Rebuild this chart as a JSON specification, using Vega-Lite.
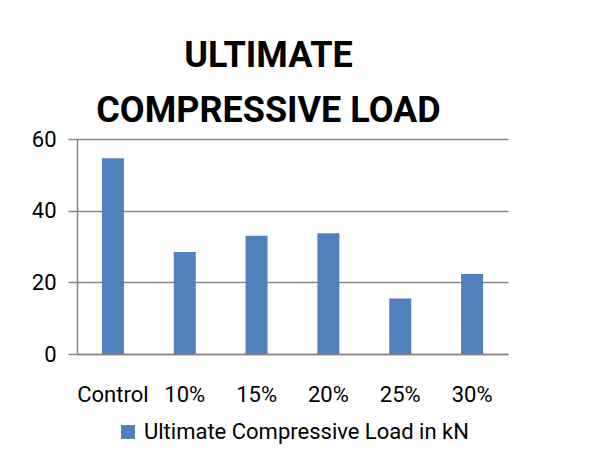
{
  "$schema": "https://vega.github.io/schema/vega-lite/v6.json",
  "width": 431,
  "height": 215,
  "autosize": {"type": "none"},
  "padding": {"left": 77, "top": 139, "right": 94, "bottom": 119},
  "background": "white",
  "title": {
    "text": ["ULTIMATE", "COMPRESSIVE LOAD"],
    "font": "Roboto",
    "fontSize": 36,
    "fontWeight": "bold",
    "color": "black",
    "anchor": "middle",
    "dx": -24,
    "lineHeight": 55,
    "offset": -2
  },
  "data": {
    "values": [
      {"Category": "Control", "Load": 54.6, "Series": "Ultimate Compressive Load in kN"},
      {"Category": "10%", "Load": 28.5, "Series": "Ultimate Compressive Load in kN"},
      {"Category": "15%", "Load": 33.0, "Series": "Ultimate Compressive Load in kN"},
      {"Category": "20%", "Load": 33.7, "Series": "Ultimate Compressive Load in kN"},
      {"Category": "25%", "Load": 15.5, "Series": "Ultimate Compressive Load in kN"},
      {"Category": "30%", "Load": 22.3, "Series": "Ultimate Compressive Load in kN"}
    ]
  },
  "mark": {"type": "bar", "size": 22},
  "encoding": {
    "x": {
      "field": "Category",
      "type": "nominal",
      "sort": null,
      "scale": {"paddingInner": 0, "paddingOuter": 0},
      "axis": {
        "title": null,
        "labelAngle": 0,
        "labelFont": "Roboto",
        "labelFontSize": 22,
        "labelColor": "black",
        "labelPadding": 30,
        "ticks": false,
        "domainColor": "#868686",
        "domainWidth": 1.5
      }
    },
    "y": {
      "field": "Load",
      "type": "quantitative",
      "scale": {"domain": [0, 60]},
      "axis": {
        "title": null,
        "values": [0, 20, 40, 60],
        "labelFont": "Roboto",
        "labelFontSize": 22,
        "labelColor": "black",
        "labelPadding": 12,
        "tickSize": 9,
        "tickColor": "#868686",
        "tickWidth": 1.5,
        "domainColor": "#868686",
        "domainWidth": 1.5,
        "gridColor": "#868686",
        "gridWidth": 1.5
      }
    },
    "color": {
      "field": "Series",
      "type": "nominal",
      "scale": {"range": ["#4F81BD"]},
      "legend": {
        "title": null,
        "orient": "none",
        "legendX": 40,
        "legendY": 282,
        "symbolType": "square",
        "symbolSize": 196,
        "symbolStrokeWidth": 0,
        "labelFont": "Roboto",
        "labelFontSize": 22,
        "labelColor": "black",
        "labelOffset": 5,
        "labelLimit": 500
      }
    }
  },
  "config": {
    "view": {"stroke": null}
  }
}
